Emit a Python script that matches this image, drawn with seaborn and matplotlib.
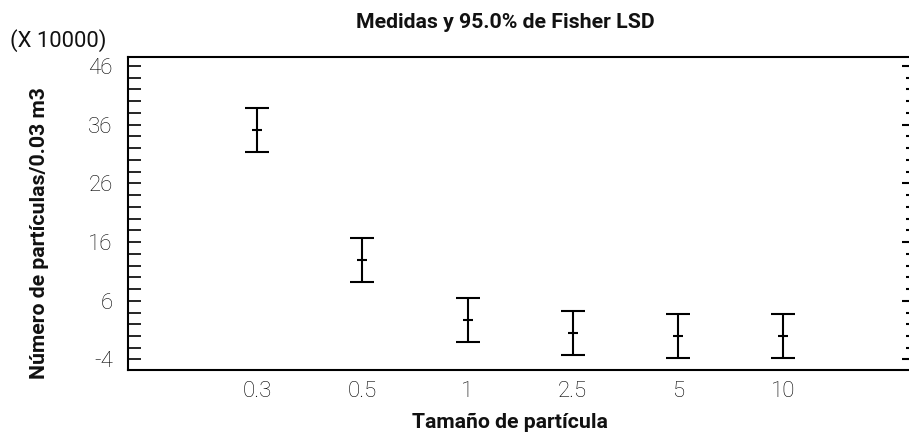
import numpy as np
import pandas as pd
import matplotlib
matplotlib.use("Agg")
import matplotlib.pyplot as plt
import seaborn as sns
from matplotlib.ticker import MultipleLocator

categories = ["0.3", "0.5", "1", "2.5", "5", "10"]
means = [35.1, 13.0, 2.7, 0.5, 0.05, 0.05]
lower = [31.35, 9.25, -1.0, -3.2, -3.7, -3.7]
upper = [38.85, 16.75, 6.5, 4.3, 3.8, 3.8]
yticks = [-4, 6, 16, 26, 36, 46]

title = "Medidas y 95.0% de Fisher LSD"
xlabel = "Tamaño de partícula"
ylabel = "Número de partículas/0.03 m3"
scale_note = "(X 10000)"

sns.set_theme(style="white")
plt.rcParams['font.family'] = ['Roboto', 'DejaVu Sans']
plt.rcParams['axes.unicode_minus'] = False

df = pd.DataFrame({"size": categories, "mean": means, "lo": lower, "hi": upper})

W, H = 909, 432
fig = plt.figure(figsize=(W / 100, H / 100), dpi=100)
L, R, T, B = 128, 909, 57, 370
ax = fig.add_axes([L / W, 1 - B / H, (R - L) / W, (B - T) / H])

yerr = np.vstack([df["mean"] - df["lo"], df["hi"] - df["mean"]])
ax.errorbar(df["size"], df["mean"], yerr=yerr, fmt="none", ecolor="black",
            elinewidth=1.5, capsize=8.3, capthick=1.5)
sns.scatterplot(data=df, x="size", y="mean", marker="_", s=45, color="black",
                linewidth=1.5, ax=ax, zorder=5)

ax.set_xlim(-1.23, 6.2)
ax.set_ylim(-5.79, 47.53)
ax.set_yticks(yticks)
ax.yaxis.set_minor_locator(MultipleLocator(2))
ax.set_xlabel("")
ax.set_ylabel("")

for s in ["left", "bottom", "top"]:
    ax.spines[s].set_visible(True)
    ax.spines[s].set_color("black")
    ax.spines[s].set_linewidth(1.5)
ax.spines["right"].set_visible(False)

ax.tick_params(axis="y", which="both", direction="in", length=9.5, width=1.2,
               color="black", left=True, right=False, pad=11,
               labelsize=16, labelcolor="black")
ax.tick_params(axis="x", which="both", length=0, pad=8, labelsize=16,
               labelcolor="black")
for lab in ax.get_xticklabels() + ax.get_yticklabels():
    lab.set_fontweight("light")

ax2 = ax.twinx()
ax2.set_ylim(ax.get_ylim())
ax2.set_yticks(yticks)
ax2.yaxis.set_minor_locator(MultipleLocator(2))
ax2.tick_params(axis="y", which="major", direction="in", length=5, width=1.5,
                color="black", labelright=False)
ax2.tick_params(axis="y", which="minor", direction="in", length=2.3, width=1.5,
                color="black")
for s in ax2.spines.values():
    s.set_visible(False)
ax2.grid(False)
ax.grid(False)

fig.text(505 / W, 1 - 28 / H, title, ha="center", va="baseline",
         fontsize=15.3, fontweight="bold", color="#111111")
fig.text(510 / W, 1 - 428 / H, xlabel, ha="center", va="baseline",
         fontsize=15.3, fontweight="bold", color="#111111")
fig.text(40 / W, 1 - 233.5 / H, ylabel, ha="center", va="center", rotation=90,
         fontsize=15.3, fontweight="bold", color="#111111")
fig.text(10 / W, 1 - 47 / H, scale_note, ha="left", va="baseline",
         fontsize=15.8, color="#111111")

fig.savefig("out.png", dpi=100)
